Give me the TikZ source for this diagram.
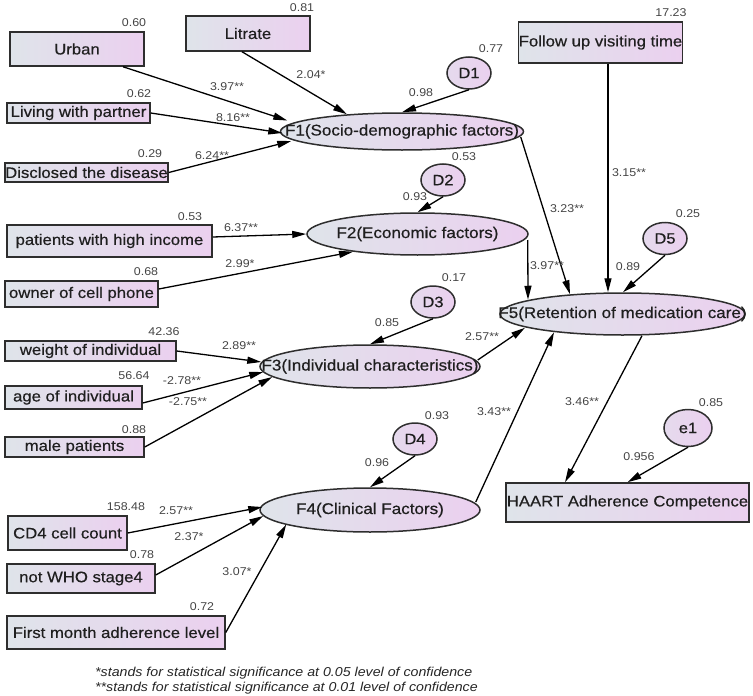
\documentclass[tikz,border=0pt]{standalone}
\usepackage{fontspec}
\setmainfont{Liberation Sans}[FakeStretch=1.1]
\newfontfamily\labfont{Liberation Sans}[FakeStretch=1.1,FakeBold=0.5]
\usetikzlibrary{arrows.meta,shapes.geometric}
\definecolor{lc}{HTML}{DFE4EA}
\definecolor{rc}{HTML}{EBD0EF}
\definecolor{bd}{HTML}{2E2E2E}
\definecolor{nm}{HTML}{444444}
\newcommand{\zw}[1]{\makebox[0pt]{#1}}
\begin{document}
\begin{tikzpicture}[x=1pt,y=-1pt,
 box/.style={draw=bd,line width=1.5pt,left color=lc,right color=rc,inner sep=0pt,font=\labfont\fontsize{15.2}{17}\selectfont,text=black!88},
 lat/.style={ellipse,draw=bd,line width=1.5pt,left color=lc,right color=rc,inner sep=0pt,font=\labfont\fontsize{15.5}{17}\selectfont,text=black!88},
 err/.style={ellipse,draw=bd,line width=1.5pt,left color=lc!50!rc,right color=rc,inner sep=0pt,minimum width=44pt,minimum height=32pt,font=\labfont\fontsize{15}{17}\selectfont,text=black!88},
 num/.style={font=\fontsize{11.3}{13}\selectfont,text=nm,inner sep=0pt},
 arr/.style={-{Triangle[length=14pt,width=7pt]},line width=1.3pt,black},
 foot/.style={anchor=west,font=\fontsize{12.9}{15}\selectfont\itshape,text=black!85,inner sep=0pt}
]
\useasboundingbox (0,0) rectangle (753,696);

% observed boxes
\node[box,minimum width=134pt,minimum height=34pt] (urban) at (77,49) {Urban};
\node[box,minimum width=124pt,minimum height=35pt] (litr) at (248,33.5) {Litrate};
\node[box,minimum width=143pt,minimum height=20pt] (living) at (78.5,113) {Living with partner};
\node[box,minimum width=163pt,minimum height=19pt] (discl) at (86.5,172.5) {Disclosed the disease};
\node[box,minimum width=163pt,minimum height=41pt] (follow) at (600.5,42.5) {Follow up visiting time};
\node[box,minimum width=205pt,minimum height=32pt] (income) at (109.5,241) {patients with high income};
\node[box,minimum width=153pt,minimum height=26pt] (phone) at (81.5,294) {owner of cell phone};
\node[box,minimum width=171pt,minimum height=20pt] (weight) at (90.5,351) {weight of individual};
\node[box,minimum width=137pt,minimum height=23pt] (age) at (73.5,397.5) {age of individual};
\node[box,minimum width=139pt,minimum height=20pt] (male) at (74.5,447) {male patients};
\node[box,minimum width=119pt,minimum height=34pt] (cd4) at (67.5,533) {CD4 cell count};
\node[box,minimum width=148pt,minimum height=29pt] (who) at (81,578.5) {not WHO stage4};
\node[box,minimum width=218pt,minimum height=33pt] (first) at (116,632.5) {First month adherence level};
\node[box,minimum width=243pt,minimum height=39pt] (haart) at (627.5,502.5) {HAART Adherence Competence};

% latent factors
\node[lat,minimum width=243pt,minimum height=37pt] (f1) at (402,131.5) {\zw{F1(Socio-demographic factors)}};
\node[lat,minimum width=221pt,minimum height=42pt] (f2) at (417.5,234) {\zw{F2(Economic factors)}};
\node[lat,minimum width=220pt,minimum height=43pt] (f3) at (370,366.5) {\zw{F3(Individual characteristics)}};
\node[lat,minimum width=220pt,minimum height=44pt] (f4) at (370,510) {\zw{F4(Clinical Factors)}};
\node[lat,minimum width=245pt,minimum height=42pt] (f5) at (622.5,314) {\zw{F5(Retention of medication care)}};

% disturbances
\node[err] (d1) at (469,73) {D1};
\node[err] (d2) at (443,180) {D2};
\node[err] (d3) at (433,302) {D3};
\node[err] (d4) at (415,439) {D4};
\node[err] (d5) at (665,238.5) {D5};
\node[err,minimum width=48pt,minimum height=37pt] (e1) at (688,428) {e1};

% connectors
\draw[arr] ([xshift=46pt]urban.south) -- ([xshift=7.5pt,yshift=11pt]f1.west);
\draw[arr] (living.east) -- ([xshift=2.5pt,yshift=-1.5pt]f1.west);
\draw[arr] (discl.east) -- ([xshift=11.5pt,yshift=-9.5pt]f1.west);
\draw[arr] ([xshift=-6pt]litr.south) -- ([xshift=-55pt,yshift=-2pt]f1.north);
\draw[arr] (d1.south) -- (f1.north);
\draw[arr] ([xshift=-3.5pt,yshift=-5.5pt]f1.east) -- ([xshift=-52.5pt,yshift=-2pt]f5.north);
\draw[arr] ([xshift=7.5pt]follow.south) -- ([xshift=-14.5pt]f5.north);
\draw[arr] (d5.south) -- ([xshift=0.5pt]f5.north);
\draw[arr] ([xshift=-1pt,yshift=-6pt]f2.east) -- ([xshift=-94.5pt,yshift=-7.5pt]f5.north);
\draw[arr] ([yshift=4pt]income.east) -- (f2.west);
\draw[arr] ([yshift=5pt]phone.east) -- ([xshift=-64.5pt,yshift=4pt]f2.south);
\draw[arr] (d2.south) -- (f2.north);
\draw[arr] (weight.east) -- ([xshift=2pt,yshift=4.5pt]f3.west);
\draw[arr] ([yshift=-5.5pt]age.east) -- ([xshift=4pt,yshift=-5.5pt]f3.west);
\draw[arr] (male.east) -- ([xshift=13pt,yshift=-10.5pt]f3.west);
\draw[arr] (d3.south) -- (f3.north);
\draw[arr] ([xshift=-3pt,yshift=6.5pt]f3.east) -- ([xshift=-97.5pt,yshift=8pt]f5.south);
\draw[arr] (cd4.east) -- ([xshift=3pt,yshift=3pt]f4.west);
\draw[arr] ([yshift=3.5pt]who.east) -- ([xshift=4pt,yshift=-6pt]f4.west);
\draw[arr] (first.east) -- ([xshift=27pt,yshift=-14.4pt]f4.west);
\draw[arr] (d4.south) -- (f4.north);
\draw[arr] ([xshift=-5pt,yshift=8pt]f4.east) -- ([xshift=-68.5pt,yshift=3.5pt]f5.south);
\draw[arr] ([xshift=19.5pt]f5.south) -- ([xshift=-62.5pt]haart.north);
\draw[arr] (e1.south) -- (haart.north);

% numbers
\node[num] (n1) at (134,23) {0.60};
\node[num] (n2) at (302,8) {0.81};
\node[num] (n3) at (139,94) {0.62};
\node[num] (n4) at (150,154) {0.29};
\node[num] (n5) at (671,13) {17.23};
\node[num] (n6) at (491,49) {0.77};
\node[num] (n7) at (421,93) {0.98};
\node[num] (n8) at (227,87) {3.97**};
\node[num] (n9) at (311,75) {2.04*};
\node[num] (n10) at (233,118) {8.16**};
\node[num] (n11) at (212,156) {6.24**};
\node[num] (n12) at (464,157) {0.53};
\node[num] (n13) at (629,173) {3.15**};
\node[num] (n14) at (415,197) {0.93};
\node[num] (n15) at (190,217) {0.53};
\node[num] (n16) at (241,228) {6.37**};
\node[num] (n17) at (240,264) {2.99*};
\node[num] (n18) at (146,272) {0.68};
\node[num] (n19) at (164,332) {42.36};
\node[num] (n20) at (239,346) {2.89**};
\node[num] (n21) at (134,376) {56.64};
\node[num] (n22) at (182,381) {-2.78**};
\node[num] (n23) at (188,402) {-2.75**};
\node[num] (n24) at (134,430) {0.88};
\node[num] (n25) at (567,209) {3.23**};
\node[num] (n26) at (688,214) {0.25};
\node[num] (n27) at (547,266) {3.97**};
\node[num] (n28) at (628,267) {0.89};
\node[num] (n29) at (454,278) {0.17};
\node[num] (n30) at (387,323) {0.85};
\node[num] (n31) at (482,337) {2.57**};
\node[num] (n32) at (494,412) {3.43**};
\node[num] (n33) at (582,402) {3.46**};
\node[num] (n34) at (711,403) {0.85};
\node[num] (n35) at (437,416) {0.93};
\node[num] (n36) at (639,457) {0.956};
\node[num] (n37) at (377,463) {0.96};
\node[num] (n38) at (126,507) {158.48};
\node[num] (n39) at (176,511) {2.57**};
\node[num] (n40) at (189,537) {2.37*};
\node[num] (n41) at (142,555) {0.78};
\node[num] (n42) at (237,572) {3.07*};
\node[num] (n43) at (202,607) {0.72};

% footnote
\node[foot] (fn1) at (95,673) {*stands for statistical significance at 0.05 level of confidence};
\node[foot] (fn2) at (95,688) {**stands for statistical significance at 0.01 level of confidence};
\end{tikzpicture}
\end{document}
